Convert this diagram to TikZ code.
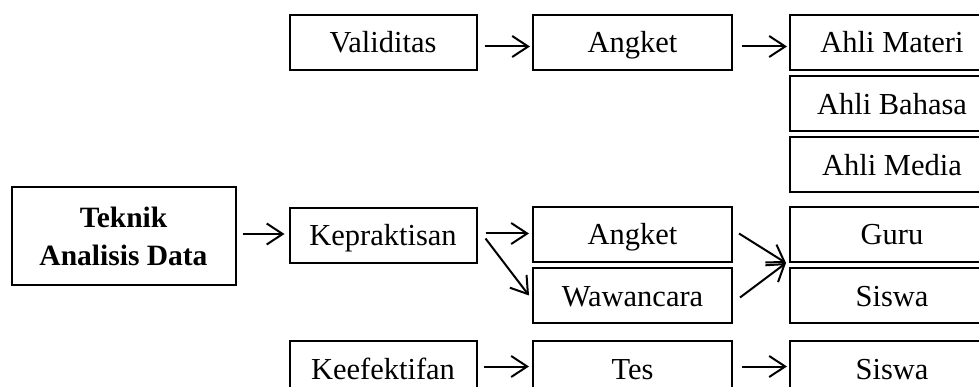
\documentclass[tikz,border=0pt]{standalone}
\usepackage{fontspec}
\setmainfont{Liberation Serif}
\usetikzlibrary{arrows.meta,calc}
\begin{document}
\begin{tikzpicture}[x=1pt,y=-1pt,
  box/.style={draw, line width=2pt, minimum height=55pt, inner sep=0pt,
    text height=21pt, text depth=0pt,
    font=\fontsize{30.5}{34}\selectfont},
  link/.style={line width=2pt,
    -{Straight Barb[length=16pt,width=21pt,line width=2pt]}}]
\useasboundingbox (0,0) rectangle (979,387);
\clip (0,0) rectangle (979,387);

% root
\node[draw, line width=2pt, minimum width=224pt, minimum height=98pt, align=center,
  font=\fontsize{29.5}{38}\selectfont\bfseries] (teknik) at (123.5,236)
  {Teknik\\Analisis Data};

% first column
\node[box, minimum width=187pt] (valid) at (383,42.5) {Validitas};
\node[box, minimum width=187pt] (kepr)  at (383,235.5) {Kepraktisan};
\node[box, minimum width=187pt] (keef)  at (383,368.5) {Keefektifan};

% instruments
\node[box, minimum width=199pt] (ang1) at (632.5,42.5)  {Angket};
\node[box, minimum width=199pt] (ang2) at (632.5,234.5) {Angket};
\node[box, minimum width=199pt] (waw)  at (632.5,295.5) {Wawancara};
\node[box, minimum width=199pt] (tes)  at (632.5,368.5) {Tes};

% respondents
\node[box, minimum width=204pt] (materi) at (892,42.5)  {Ahli Materi};
\node[box, minimum width=204pt] (bahasa) at (892,104)   {Ahli Bahasa};
\node[box, minimum width=204pt] (media)  at (892,165)   {Ahli Media};
\node[box, minimum width=204pt] (guru)   at (892,234.5) {Guru};
\node[box, minimum width=204pt] (siswa)  at (892,295.5) {Siswa};
\node[box, minimum width=204pt] (siswb)  at (892,368.5) {Siswa};

\coordinate (meet) at ($(guru.south west)+(-3,0)$);

% connectors
\draw[link] ($(teknik.east)+(6,-2)$) -- ($(kepr.west)+(-4,-1.5)$);
\draw[link] ($(valid.east)+(7,4)$) -- ($(ang1.west)+(-2,4)$);
\draw[link] ($(ang1.east)+(9,4)$) -- ($(materi.west)+(-2,4)$);
\draw[link] ($(kepr.east)+(8,-2)$) -- ($(ang2.west)+(-3,-1)$);
\draw[link] ($(kepr.east)+(8,3)$) -- ($(waw.west)+(-3,0)$);
\draw[link] ($(ang2.east)+(6,-1)$) -- (meet);
\draw[link] ($(waw.east)+(7,2)$) -- (meet);
\draw[link] ($(keef.east)+(6,-2)$) -- ($(tes.west)+(-3,-2)$);
\draw[link] ($(tes.east)+(9,-2)$) -- ($(siswb.west)+(-2,-2)$);
\end{tikzpicture}
\end{document}
